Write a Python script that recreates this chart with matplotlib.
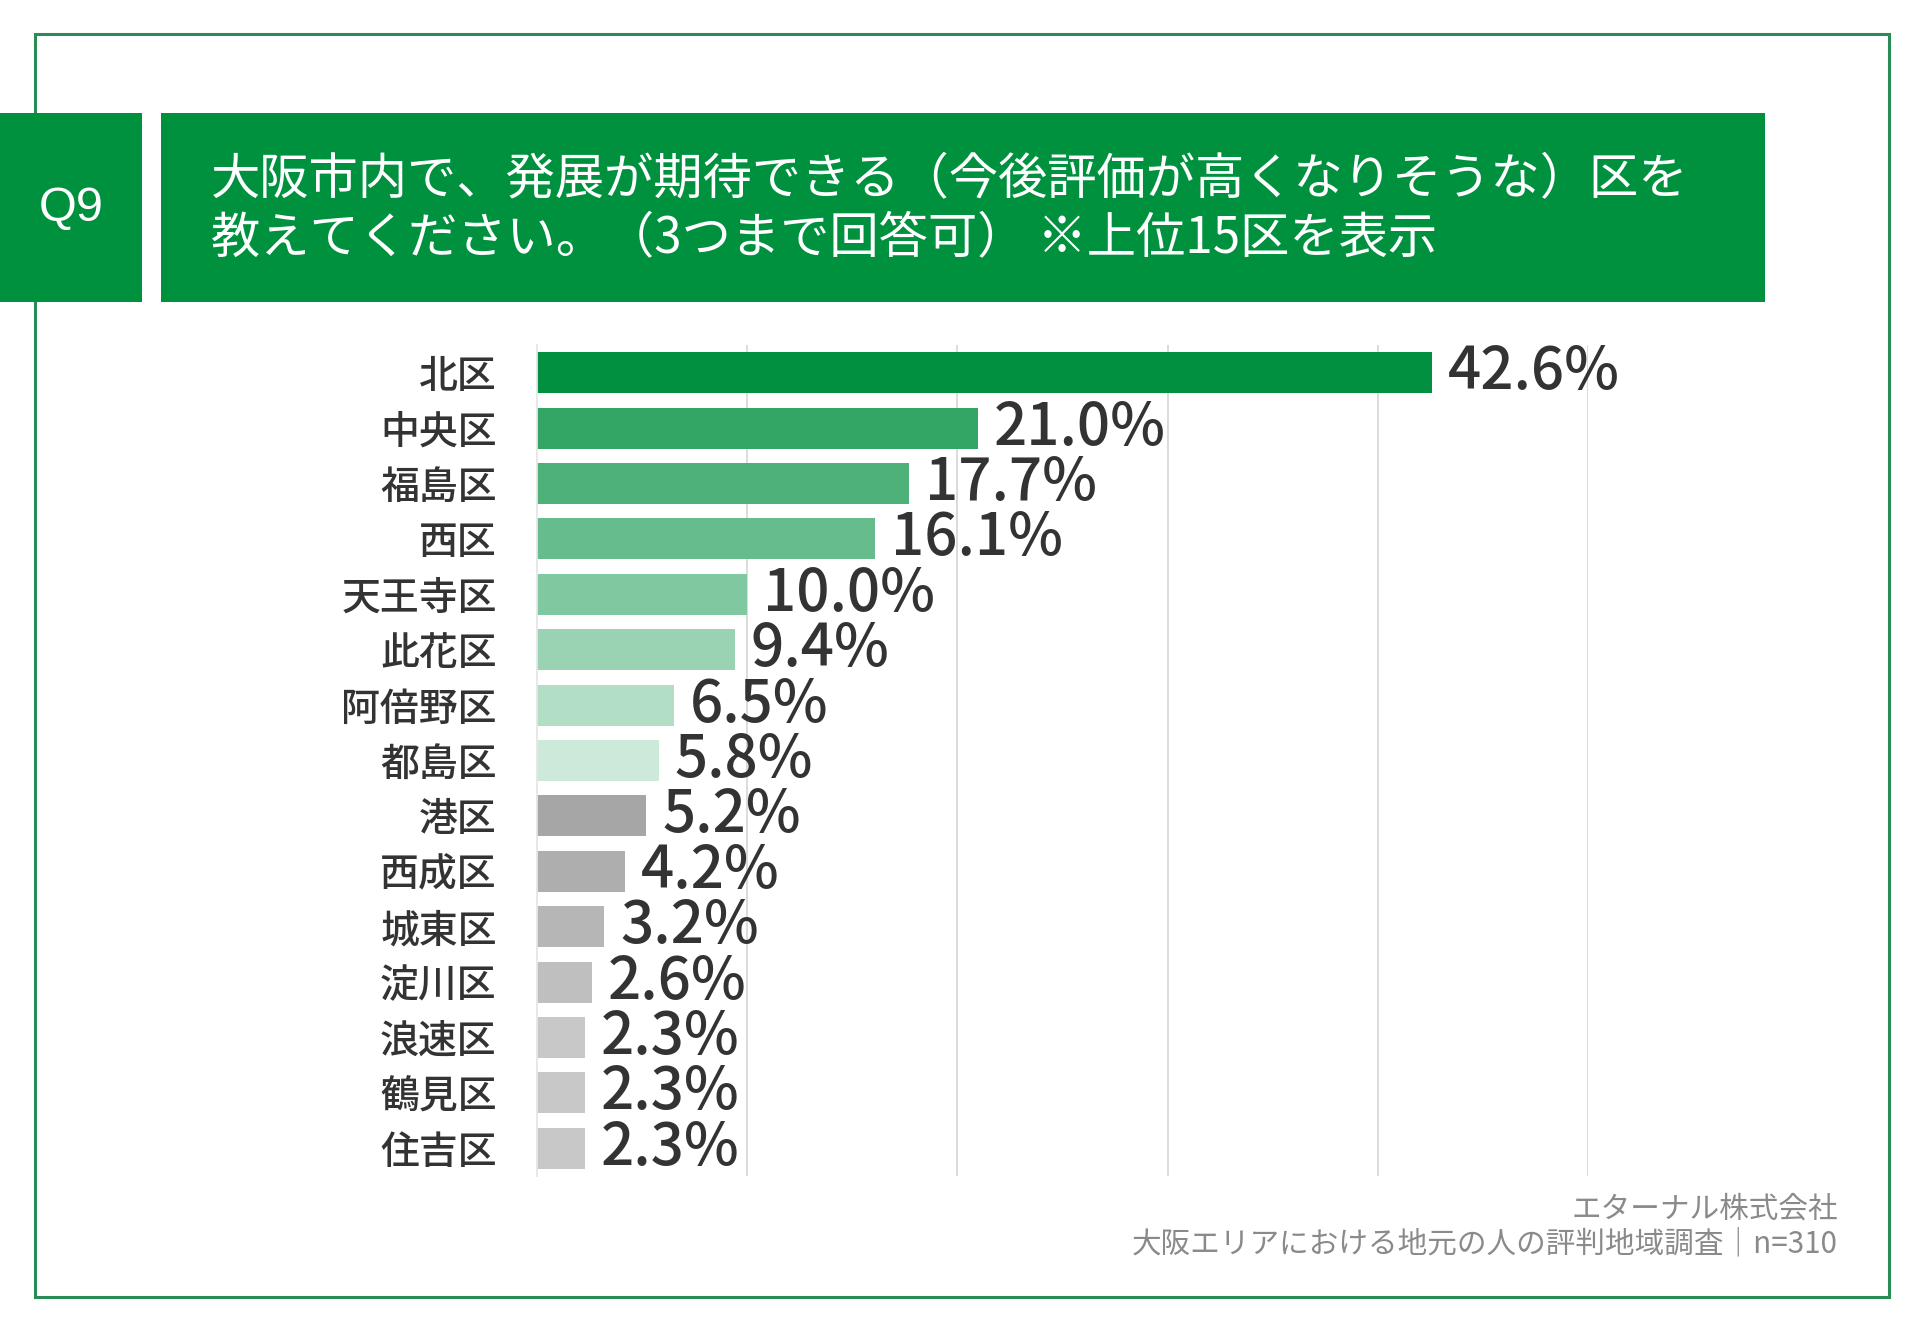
import matplotlib
matplotlib.use('Agg')
import matplotlib.pyplot as plt
from matplotlib.patches import Rectangle

plt.rcParams['font.family'] = ['Noto Sans CJK JP', 'DejaVu Sans']

# data
wards = ['北区', '中央区', '福島区', '西区', '天王寺区', '此花区', '阿倍野区', '都島区',
         '港区', '西成区', '城東区', '淀川区', '浪速区', '鶴見区', '住吉区']
values = [42.6, 21.0, 17.7, 16.1, 10.0, 9.4, 6.5, 5.8, 5.2, 4.2, 3.2, 2.6, 2.3, 2.3, 2.3]
bar_colors = ['#009040', '#33a666', '#4db179', '#66bc8c', '#80c8a0', '#99d3b3', '#b3dec6', '#cce9d9',
              '#a6a6a6', '#aeaeae', '#b6b6b6', '#bfbfbf', '#c8c8c8', '#c8c8c8', '#c8c8c8']
title_lines = ['大阪市内で、発展が期待できる（今後評価が高くなりそうな）区を',
               '教えてください。（3つまで回答可） ※上位15区を表示']
q_label = 'Q9'
footer_lines = ['エターナル株式会社', '大阪エリアにおける地元の人の評判地域調査｜n=310']

GREEN = '#00913f'
W, H = 1920, 1329
fig = plt.figure(figsize=(W / 100, H / 100), dpi=100)

# background layer in pixel coords
bg = fig.add_axes([0, 0, 1, 1])
bg.set_xlim(0, W)
bg.set_ylim(H, 0)
bg.axis('off')
bg.add_patch(Rectangle((35, 34), 1854, 1263, fill=False, edgecolor='#2a8c55', lw=2.2, zorder=1))
bg.add_patch(Rectangle((0, 113), 142, 189, facecolor=GREEN, edgecolor='none', zorder=2))
bg.add_patch(Rectangle((161, 113), 1604, 189, facecolor=GREEN, edgecolor='none', zorder=2))
bg.text(71, 209, q_label, color='white', fontsize=35, ha='center', va='center',
        family=['Liberation Sans', 'DejaVu Sans'], zorder=3)
bg.text(211, 179, title_lines[0], color='white', fontsize=35.5, ha='left', va='center', zorder=3)
bg.text(211, 238, title_lines[1], color='white', fontsize=35.5, ha='left', va='center', zorder=3)
bg.text(1838, 1209, footer_lines[0], color='#8a8a8a', fontsize=21.3, ha='right', va='center')
bg.text(1838, 1244, footer_lines[1], color='#8a8a8a', fontsize=21.3, ha='right', va='center')

# bar chart
ax = fig.add_axes([537 / W, 1 - 1176 / H, (1588 - 537) / W, (1176 - 345) / H])
ax.patch.set_alpha(0)
y = list(range(len(wards)))
ax.barh(y, values, height=0.74, color=bar_colors, zorder=2)
for yi, v in zip(y, values):
    ax.text(v + 0.75, yi, f'{v:.1f}%', fontsize=42, color='#333333', ha='left',
            va='center', fontweight='medium', zorder=3)
ax.set_xlim(0, 50)
ax.set_ylim(len(wards) - 0.5, -0.5)
ax.set_xticks([10, 20, 30, 40, 50])
ax.xaxis.grid(True, color='#d9d9d9', lw=1.3, zorder=0)
ax.tick_params(axis='x', length=0, labelbottom=False)
ax.tick_params(axis='y', length=0, pad=29)
ax.set_yticks(y)
ax.set_yticklabels(wards, fontsize=28, color='#333333', fontweight='medium')
for s in ['top', 'right', 'bottom']:
    ax.spines[s].set_visible(False)
ax.spines['left'].set_color('#e6e6e6')
ax.spines['left'].set_linewidth(1.3)

fig.savefig('out.png', dpi=100, facecolor='white')
